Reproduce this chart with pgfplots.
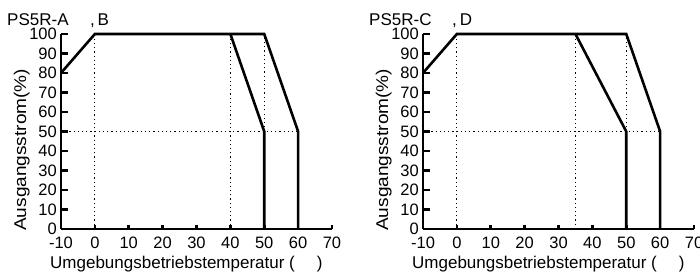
\documentclass[border=0pt]{standalone}
\usepackage{fontspec}
\setmainfont{Liberation Sans}
\usepackage{pgfplots}
\pgfplotsset{compat=1.18}
\pgfplotsset{
  derate/.style={
    scale only axis, width=271pt, height=195pt,
    xmin=-10, xmax=70, ymin=0, ymax=100,
    axis x line=bottom, axis y line=left,
    axis line style={-, line width=2.6pt, black},
    xtick={-10,0,...,70}, ytick={0,10,...,100},
    tick align=inside,
    tick style={line width=2.6pt, black},
    ytick style={/pgfplots/major tick length=7pt},
    xtick style={/pgfplots/major tick length=4pt},
    tick label style={font=\fontsize{16.5}{16.5}\selectfont},
    xticklabel style={anchor=base, yshift=-19pt, inner sep=0pt},
    yticklabel style={anchor=east, inner sep=0pt, xshift=-4pt},
    /pgf/number format/assume math mode=true,
    clip=false,
    anchor=south west,
  },
  dot/.style={line width=1pt, black, dash pattern=on 1.2pt off 3pt},
  sol/.style={line width=2.6pt, black},
}
\begin{document}
\begin{tikzpicture}[x=1pt,y=1pt]
\useasboundingbox (0,0) rectangle (700,276);
% left chart
\begin{axis}[derate, at={(61pt,47pt)}]
\addplot[dot] coordinates {(0,0)(0,100)};
\addplot[dot] coordinates {(40,0)(40,100)};
\addplot[dot] coordinates {(50,50)(50,100)};
\addplot[dot] coordinates {(-10,50)(60,50)};
\addplot[sol] coordinates {(-10,80)(0,100)(50,100)(60,50)(60,0)};
\addplot[sol] coordinates {(40,100)(50,50)(50,0)};
\end{axis}
% right chart
\begin{axis}[derate, at={(423pt,47pt)}]
\addplot[dot] coordinates {(0,0)(0,100)};
\addplot[dot] coordinates {(35,0)(35,100)};
\addplot[dot] coordinates {(50,50)(50,100)};
\addplot[dot] coordinates {(-10,50)(60,50)};
\addplot[sol] coordinates {(-10,80)(0,100)(50,100)(60,50)(60,0)};
\addplot[sol] coordinates {(35,100)(50,50)(50,0)};
\end{axis}
% labels
\foreach \dx/\name/\suf in {0/A/B, 362/C/D} {
  \node[anchor=base west, inner sep=0pt, font=\fontsize{17}{17}\selectfont] at (7+\dx,250) {PS5R-\name};
  \node[anchor=base west, inner sep=0pt, font=\fontsize{17}{17}\selectfont] at (90+\dx,250) {,\,\suf};
  \node[anchor=base west, inner sep=0pt, rotate=90, xscale=1.12, font=\fontsize{17}{17}\selectfont] at (26+\dx,45) {Ausgangsstrom(\%)};
  \node[anchor=base west, inner sep=0pt, font=\fontsize{17}{17}\selectfont] at (50+\dx,8) {Umgebungsbetriebstemperatur (\hspace{1.3em})};
}
\end{tikzpicture}
\end{document}
